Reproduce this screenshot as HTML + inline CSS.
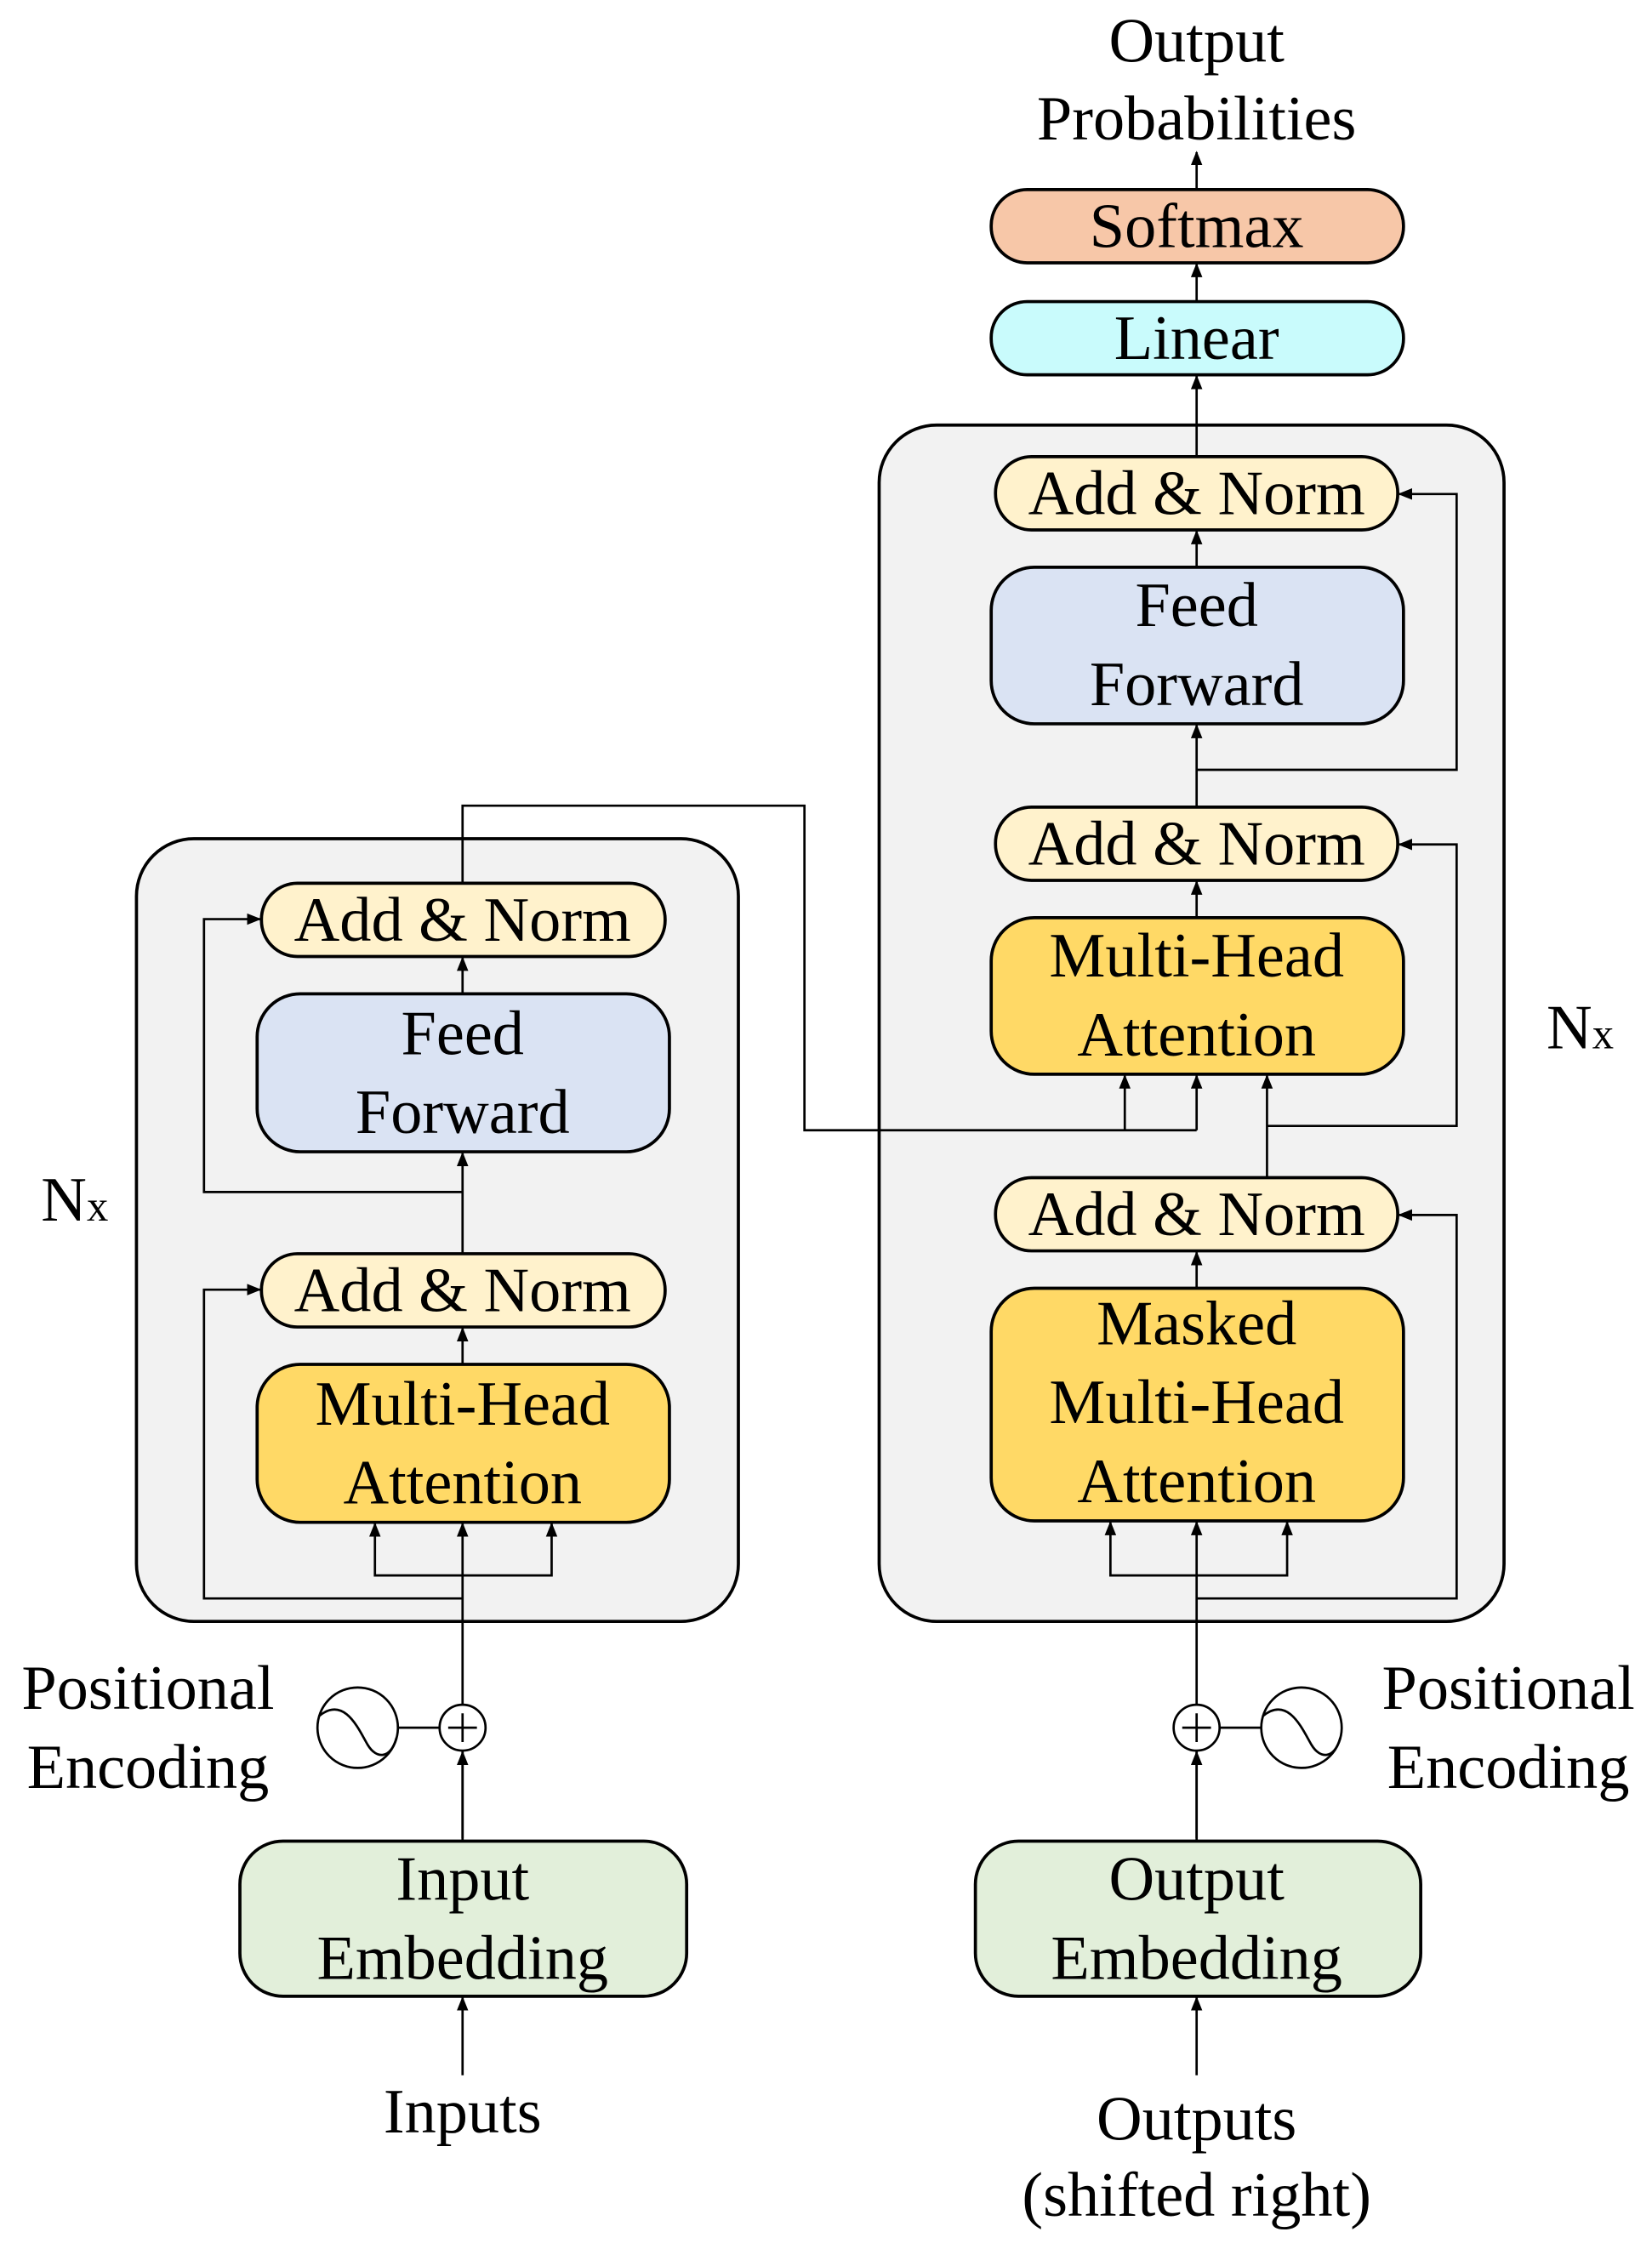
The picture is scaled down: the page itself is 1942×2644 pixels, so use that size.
<!DOCTYPE html>
<html><head><style>
html,body{margin:0;padding:0;background:#fff}
svg{display:block}
text{font-family:"Liberation Serif",serif;font-size:44px;fill:#000;text-anchor:middle}
</style></head><body>
<svg width="1942" height="2644" viewBox="0 0 1150 1566" preserveAspectRatio="none" xmlns="http://www.w3.org/2000/svg">
<defs>
<marker id="a" markerWidth="10" markerHeight="10" refX="9" refY="5" orient="auto" markerUnits="userSpaceOnUse"><path d="M0,1 L10,5 L0,9 Z" fill="#000"/></marker>
</defs>
<g stroke="#000" stroke-width="2.2">
<rect x="95" y="584" width="419" height="545" rx="40" fill="#f2f2f2"/>
<rect x="612" y="296" width="435" height="833" rx="40" fill="#f2f2f2"/>
</g>
<g stroke="#000" stroke-width="1.6" fill="none">
<!-- encoder -->
<path d="M322 1280 L322 1061" marker-end="url(#a)"/>
<path d="M322 1097 L261 1097 L261 1061" marker-end="url(#a)"/>
<path d="M322 1097 L384 1097 L384 1061" marker-end="url(#a)"/>
<path d="M322 1113 L142 1113 L142 898 L181 898" marker-end="url(#a)"/>
<path d="M322 950 L322 925" marker-end="url(#a)"/>
<path d="M322 873 L322 803" marker-end="url(#a)"/>
<path d="M322 830 L142 830 L142 640 L181 640" marker-end="url(#a)"/>
<path d="M322 692 L322 667" marker-end="url(#a)"/>
<path d="M322 615 L322 561 L560 561 L560 787 L833 787"/>
<path d="M783 787 L783 749" marker-end="url(#a)"/>
<path d="M833 787 L833 749" marker-end="url(#a)"/>
<path d="M322 1390 L322 1220" marker-end="url(#a)"/>
<path d="M322 1445 L322 1391" marker-end="url(#a)"/>
<path d="M277 1203 L306 1203"/>
<!-- decoder -->
<path d="M833 1280 L833 1060" marker-end="url(#a)"/>
<path d="M833 1097 L773 1097 L773 1060" marker-end="url(#a)"/>
<path d="M833 1097 L896 1097 L896 1060" marker-end="url(#a)"/>
<path d="M833 1113 L1014 1113 L1014 846 L974 846" marker-end="url(#a)"/>
<path d="M833 897 L833 872" marker-end="url(#a)"/>
<path d="M882 820 L882 749" marker-end="url(#a)"/>
<path d="M882 784 L1014 784 L1014 588 L974 588" marker-end="url(#a)"/>
<path d="M833 639 L833 614" marker-end="url(#a)"/>
<path d="M833 562 L833 505" marker-end="url(#a)"/>
<path d="M833 536 L1014 536 L1014 344 L974 344" marker-end="url(#a)"/>
<path d="M833 395 L833 370" marker-end="url(#a)"/>
<path d="M833 318 L833 262" marker-end="url(#a)"/>
<path d="M833 210 L833 184" marker-end="url(#a)"/>
<path d="M833 132 L833 106" marker-end="url(#a)"/>
<path d="M833 1390 L833 1220" marker-end="url(#a)"/>
<path d="M833 1445 L833 1391" marker-end="url(#a)"/>
<path d="M849 1203 L878 1203"/>
</g>
<g stroke="#000" stroke-width="2.2">
<rect x="182" y="615" width="281" height="51" rx="25" fill="#fff2cc"/>
<rect x="179" y="692" width="287" height="110" rx="30" fill="#dae3f3"/>
<rect x="182" y="873" width="281" height="51" rx="25" fill="#fff2cc"/>
<rect x="179" y="950" width="287" height="110" rx="30" fill="#ffd966"/>
<rect x="167" y="1282" width="311" height="108" rx="30" fill="#e2efda"/>
<rect x="693" y="318" width="280" height="51" rx="25" fill="#fff2cc"/>
<rect x="690" y="395" width="287" height="109" rx="30" fill="#dae3f3"/>
<rect x="693" y="562" width="280" height="51" rx="25" fill="#fff2cc"/>
<rect x="690" y="639" width="287" height="109" rx="30" fill="#ffd966"/>
<rect x="693" y="820" width="280" height="51" rx="25" fill="#fff2cc"/>
<rect x="690" y="897" width="287" height="162" rx="30" fill="#ffd966"/>
<rect x="690" y="210" width="287" height="51" rx="25" fill="#c9fbfc"/>
<rect x="690" y="132" width="287" height="51" rx="25" fill="#f7c7a8"/>
<rect x="679" y="1282" width="310" height="108" rx="30" fill="#e2efda"/>
</g>
<g stroke="#000" stroke-width="1.6" fill="#fff">
<circle cx="322" cy="1203" r="16"/>
<circle cx="249" cy="1203" r="28"/>
<circle cx="833" cy="1203" r="16"/>
<circle cx="906" cy="1203" r="28"/>
</g>
<g stroke="#000" stroke-width="1.6" fill="none">
<path d="M312 1203 H332 M322 1193 V1213"/>
<path d="M823 1203 H843 M833 1193 V1213"/>
<path d="M222 1195 C240 1180 250 1205 256 1215 C262 1225 272 1225 276 1210"/>
<path d="M879 1195 C897 1180 907 1205 913 1215 C919 1225 929 1225 933 1210"/>
</g>
<text x="322" y="655">Add &amp; Norm</text>
<text x="322" y="734">Feed</text>
<text x="322" y="789">Forward</text>
<text x="322" y="913">Add &amp; Norm</text>
<text x="322" y="992">Multi-Head</text>
<text x="322" y="1047">Attention</text>
<text x="322" y="1323">Input</text>
<text x="322" y="1378">Embedding</text>
<text x="322" y="1485">Inputs</text>
<text x="103" y="1190">Positional</text>
<text x="103" y="1245">Encoding</text>
<text x="52" y="850">N<tspan font-size="30">x</tspan></text>
<text x="833" y="43">Output</text>
<text x="833" y="97">Probabilities</text>
<text x="833" y="172">Softmax</text>
<text x="833" y="250">Linear</text>
<text x="833" y="358">Add &amp; Norm</text>
<text x="833" y="436">Feed</text>
<text x="833" y="491">Forward</text>
<text x="833" y="602">Add &amp; Norm</text>
<text x="833" y="680">Multi-Head</text>
<text x="833" y="735">Attention</text>
<text x="833" y="860">Add &amp; Norm</text>
<text x="833" y="936">Masked</text>
<text x="833" y="991">Multi-Head</text>
<text x="833" y="1046">Attention</text>
<text x="833" y="1323">Output</text>
<text x="833" y="1378">Embedding</text>
<text x="833" y="1490">Outputs</text>
<text x="833" y="1543">(shifted right)</text>
<text x="1050" y="1190">Positional</text>
<text x="1050" y="1245">Encoding</text>
<text x="1100" y="730">N<tspan font-size="30">x</tspan></text>
</svg>
</body></html>
